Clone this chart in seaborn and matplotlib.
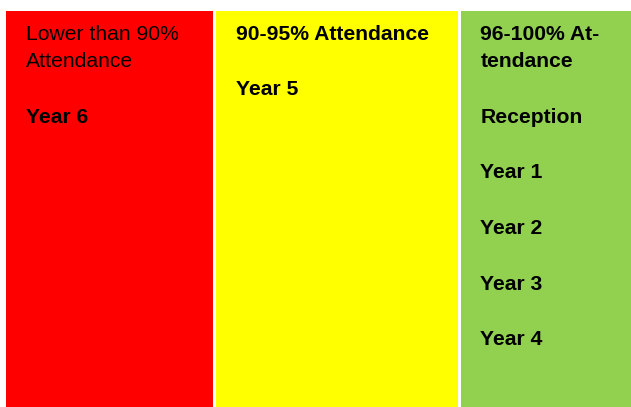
import matplotlib
matplotlib.use("Agg")
import matplotlib.pyplot as plt
import seaborn as sns

# ---- data ----
headers = ["Lower than 90%\nAttendance", "90-95% Attendance", "96-100% At-\ntendance"]
header_bold = [False, True, True]
year_groups = [["Year 6"], ["Year 5"], ["Reception", "Year 1", "Year 2", "Year 3", "Year 4"]]
colours = ["#FF0000", "#FFFF00", "#92D050"]
col_left = [6, 216, 461]
col_width = [207, 242, 170]

sns.set_theme(style="white")
plt.rcParams['font.family'] = ['Liberation Sans', 'DejaVu Sans']

W, H = 631, 407
fig = plt.figure(figsize=(W / 100, H / 100), dpi=100)
ax = fig.add_axes([0, 0, 1, 1])
ax.set_xlim(0, W)
ax.set_ylim(H, 0)
ax.axis("off")

top = 11
ax.bar(col_left, [H - top] * 3, width=col_width, bottom=top, align="edge",
       color=colours, edgecolor="none", linewidth=0)

fs = 15.2
line_h = 27.8
base0 = 39.5
pad = 19.5
for i, (hdr, items) in enumerate(zip(headers, year_groups)):
    x = col_left[i] + pad
    hlines = hdr.split("\n")
    for j, t in enumerate(hlines):
        ax.text(x, base0 + j * line_h, t, fontsize=fs, va="baseline", ha="left",
                fontweight="bold" if header_bold[i] else "normal", color="black")
    ln = len(hlines) + 1
    for t in items:
        ax.text(x, base0 + ln * line_h, t, fontsize=fs, va="baseline", ha="left",
                fontweight="bold", color="black")
        ln += 2

fig.savefig("out.png", dpi=100)
